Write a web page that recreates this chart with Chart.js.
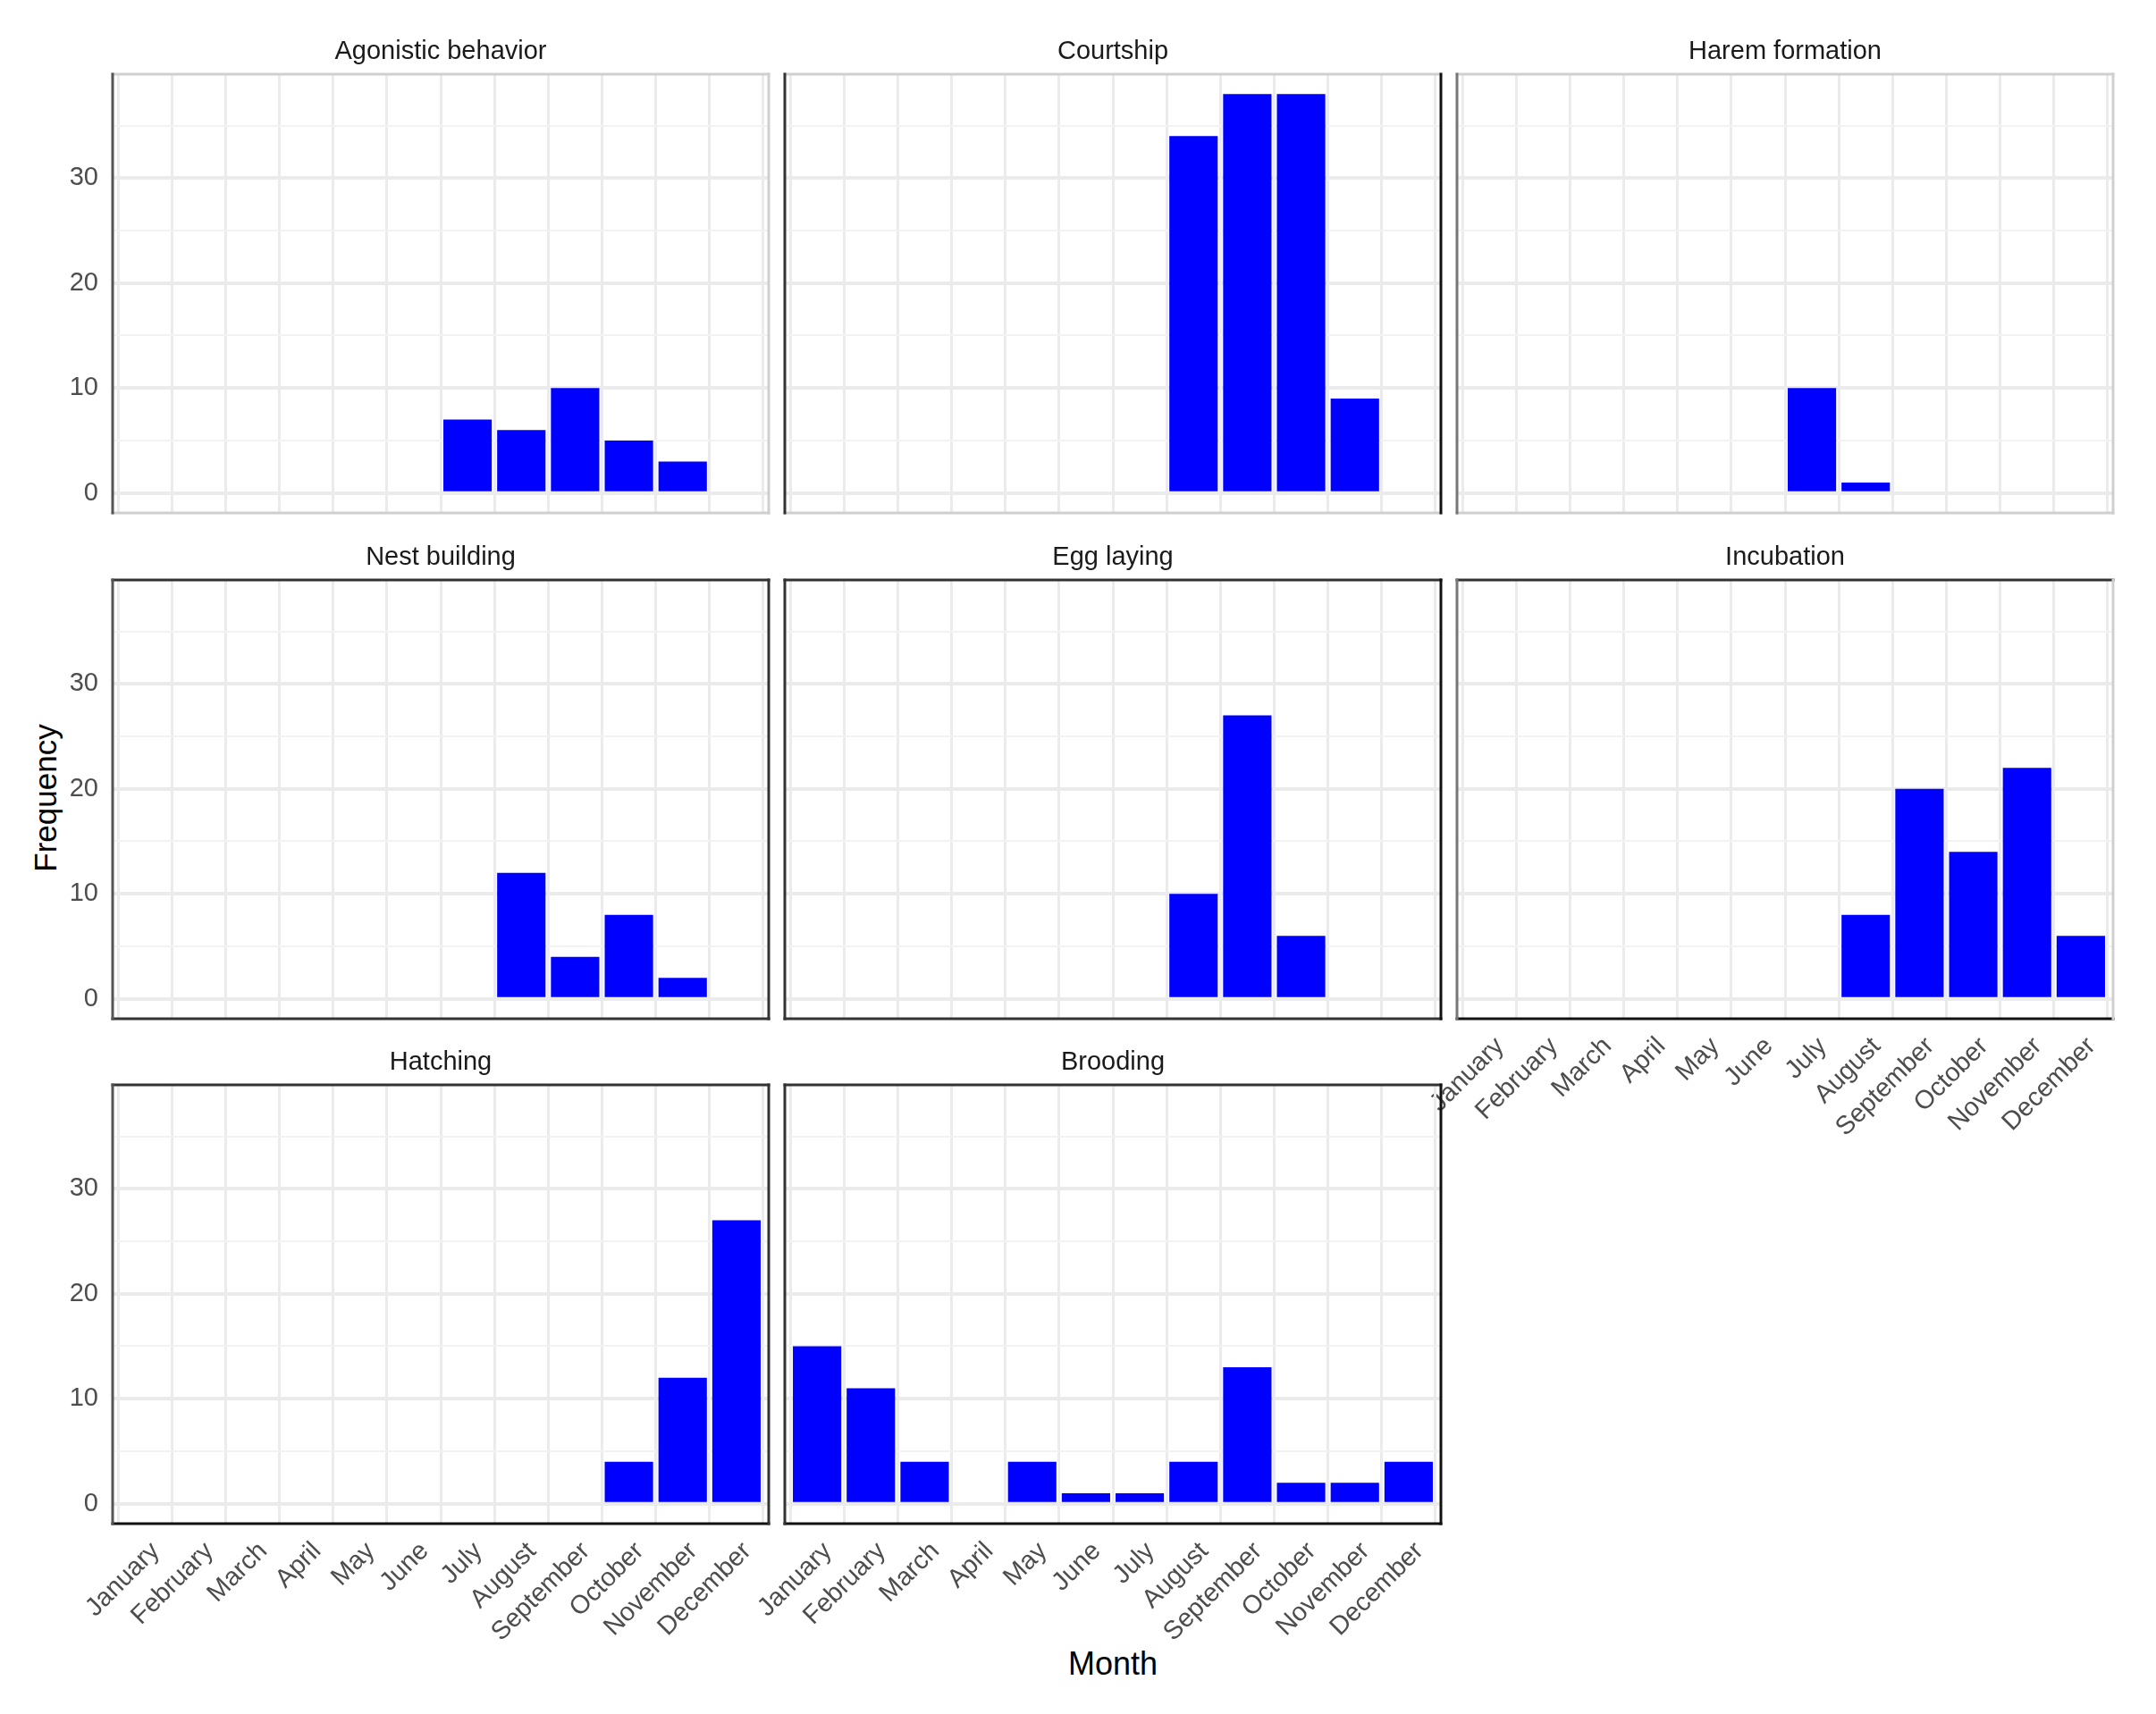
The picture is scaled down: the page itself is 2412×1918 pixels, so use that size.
<!DOCTYPE html>
<html>
<head>
<meta charset="utf-8">
<script src="https://cdn.jsdelivr.net/npm/chart.js@4.4.1/dist/chart.umd.min.js"></script>
<style>
  html, body { margin: 0; padding: 0; background: #fff; }
  body { width: 2412px; height: 1918px; position: relative; overflow: hidden; font-family: 'Liberation Sans', Arial, sans-serif; }
  canvas { position: absolute; }
  .axis-title { position: absolute; color: #000; white-space: nowrap; line-height: 1; }
  #ytitle { font-size: 35px; left: 50px; top: 893px; transform: translate(-50%, -50%) rotate(-90deg); }
  #xtitle { font-size: 36px; left: 1245px; top: 1862px; transform: translate(-50%, -50%); }
</style>
</head>
<body>
<div id="ytitle" class="axis-title">Frequency</div>
<div id="xtitle" class="axis-title">Month</div>
<script>
const months = ['January', 'February', 'March', 'April', 'May', 'June', 'July',
  'August', 'September', 'October', 'November', 'December'];
const yTicks = [0, 5, 10, 15, 20, 25, 30, 35];

// frequency per month, one list per behaviour
const agonistic  = [0, 0, 0, 0, 0, 0, 7, 6, 10, 5, 3, 0];
const courtship  = [0, 0, 0, 0, 0, 0, 0, 34, 38, 38, 9, 0];
const harem      = [0, 0, 0, 0, 0, 0, 10, 1, 0, 0, 0, 0];
const nest       = [0, 0, 0, 0, 0, 0, 0, 12, 4, 8, 2, 0];
const eggLaying  = [0, 0, 0, 0, 0, 0, 0, 10, 27, 6, 0, 0];
const incubation = [0, 0, 0, 0, 0, 0, 0, 8, 20, 14, 22, 6];
const hatching   = [0, 0, 0, 0, 0, 0, 0, 0, 0, 4, 12, 27];
const brooding   = [15, 11, 4, 0, 4, 1, 1, 4, 13, 2, 2, 4];

const colLeft = [126, 878, 1630];
const rowTop = [83, 649, 1214];
const panelW = 734;
const panelH = 491;
const STRIP = 47;

const dark = '#333333', black = '#111111', light = '#cfcfcf', mid = '#777777';

const panels = [
  { title: 'Agonistic behavior', values: agonistic, col: 0, row: 0, showX: false,
    frame: { top: light, right: light, bottom: light, left: '#555555' } },
  { title: 'Courtship', values: courtship, col: 1, row: 0, showX: false,
    frame: { top: light, right: black, bottom: light, left: dark } },
  { title: 'Harem formation', values: harem, col: 2, row: 0, showX: false,
    frame: { top: light, right: light, bottom: light, left: mid } },
  { title: 'Nest building', values: nest, col: 0, row: 1, showX: false,
    frame: { top: dark, right: dark, bottom: dark, left: '#555555' } },
  { title: 'Egg laying', values: eggLaying, col: 1, row: 1, showX: false,
    frame: { top: dark, right: black, bottom: dark, left: dark } },
  { title: 'Incubation', values: incubation, col: 2, row: 1, showX: true,
    frame: { top: dark, right: light, bottom: black, left: mid } },
  { title: 'Hatching', values: hatching, col: 0, row: 2, showX: true,
    frame: { top: dark, right: dark, bottom: black, left: '#555555' } },
  { title: 'Brooding', values: brooding, col: 1, row: 2, showX: true,
    frame: { top: dark, right: black, bottom: black, left: dark } }
];

Chart.defaults.font.family = "'Liberation Sans', Arial, sans-serif";

const framePlugin = {
  id: 'frame',
  afterDraw(chart, args, opts) {
    const { ctx, chartArea: a } = chart;
    ctx.save();
    ctx.lineWidth = 3;
    ctx.lineCap = 'square';
    const side = (color, x1, y1, x2, y2) => {
      ctx.strokeStyle = color;
      ctx.beginPath();
      ctx.moveTo(x1, y1);
      ctx.lineTo(x2, y2);
      ctx.stroke();
    };
    side(opts.top, a.left, a.top, a.right, a.top);
    side(opts.bottom, a.left, a.bottom, a.right, a.bottom);
    side(opts.left, a.left, a.top, a.left, a.bottom);
    side(opts.right, a.right, a.top, a.right, a.bottom);
    ctx.restore();
  }
};

for (const p of panels) {
  // same width on both sides so the strip title sits over the panel centre
  const L = p.col === 0 ? 126 : 120;
  const B = p.showX ? 175 : 4;

  const canvas = document.createElement('canvas');
  canvas.width = L + panelW + L;
  canvas.height = STRIP + panelH + B;
  canvas.style.left = (colLeft[p.col] - L) + 'px';
  canvas.style.top = (rowTop[p.row] - STRIP) + 'px';
  document.body.appendChild(canvas);

  new Chart(canvas.getContext('2d'), {
    type: 'bar',
    data: {
      datasets: [{
        data: p.values.map((v, i) => ({ x: i, y: v })),
        backgroundColor: '#0000ff',
        borderWidth: 0,
        barPercentage: 0.9,
        categoryPercentage: 1.0
      }]
    },
    options: {
      responsive: false,
      animation: false,
      devicePixelRatio: 1,
      layout: { padding: 0 },
      plugins: {
        legend: { display: false },
        tooltip: { enabled: false },
        title: {
          display: true,
          text: p.title,
          color: '#1a1a1a',
          font: { size: 29, weight: 'normal', lineHeight: 1 },
          padding: { top: 7, bottom: 11 }
        },
        frame: p.frame
      },
      scales: {
        x: {
          type: 'linear',
          min: -0.6,
          max: 11.6,
          offset: false,
          border: { display: false },
          grid: { color: '#ebebeb', lineWidth: 3, drawTicks: false },
          ticks: {
            display: p.showX,
            autoSkip: false,
            minRotation: 45,
            maxRotation: 45,
            padding: 14,
            labelOffset: 12,
            color: '#4d4d4d',
            font: { size: 29 },
            callback: v => months[v]
          },
          afterBuildTicks: s => { s.ticks = months.map((m, i) => ({ value: i })); },
          afterFit: s => { s.height = B; s.paddingLeft = 0; s.paddingRight = 0; }
        },
        y: {
          min: -1.9,
          max: 39.9,
          border: { display: false },
          grid: {
            color: c => (c.tick && c.tick.value % 10 === 0) ? '#ebebeb' : '#f2f2f2',
            lineWidth: c => (c.tick && c.tick.value % 10 === 0) ? 4 : 2,
            drawTicks: false
          },
          ticks: {
            display: p.col === 0,
            padding: 16,
            color: '#4d4d4d',
            font: { size: 29 },
            callback: v => (v % 10 === 0 ? String(v) : '')
          },
          afterBuildTicks: s => { s.ticks = yTicks.map(v => ({ value: v })); },
          afterFit: s => { s.width = L; s.paddingTop = 0; s.paddingBottom = 0; }
        },
        yRight: {
          position: 'right',
          min: -1.9,
          max: 39.9,
          border: { display: false },
          grid: { display: false },
          ticks: { display: false },
          afterFit: s => { s.width = L; s.paddingTop = 0; s.paddingBottom = 0; }
        }
      }
    },
    plugins: [framePlugin]
  });
}
</script>
</body>
</html>
